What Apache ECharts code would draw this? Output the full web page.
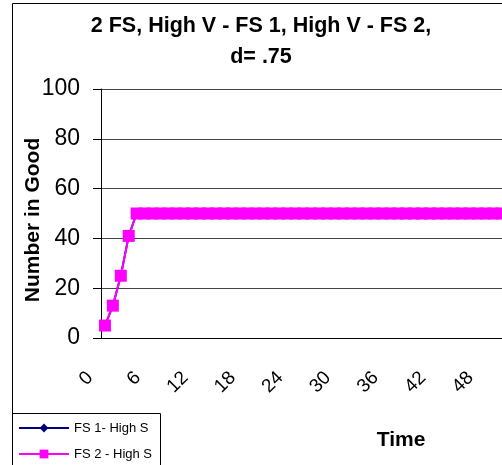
<!DOCTYPE html>
<html><head><meta charset="utf-8">
<script src="https://cdn.jsdelivr.net/npm/echarts/dist/echarts.min.js"></script>
<style>html,body{margin:0;padding:0;background:#fff}#c{width:502px;height:465px}</style>
</head><body><div id="c"></div>
<script>
const categories = ['0','1','2','3','4','5','6','7','8','9','10','11','12','13','14','15','16','17','18','19','20','21','22','23','24','25','26','27','28','29','30','31','32','33','34','35','36','37','38','39','40','41','42','43','44','45','46','47','48','49','50','51','52','53'];
const fs1Values = [5,13,25,41,50,50,50,50,50,50,50,50,50,50,50,50,50,50,50,50,50,50,50,50,50,50,50,50,50,50,50,50,50,50,50,50,50,50,50,50,50,50,50,50,50,50,50,50,50,50,50,50,50,50];
const fs2Values = [5,13,25,41,50,50,50,50,50,50,50,50,50,50,50,50,50,50,50,50,50,50,50,50,50,50,50,50,50,50,50,50,50,50,50,50,50,50,50,50,50,50,50,50,50,50,50,50,50,50,50,50,50,50];
const seriesNames = ['FS 1- High S', 'FS 2 - High S'];
const titleLines = ['2 FS, High V - FS 1, High V - FS 2,', 'd= .75'];

const font = 'Liberation Sans, Arial, sans-serif';
const titleStyle = {fontSize: 21.5, fontWeight: 'bold', color: '#000', fontFamily: font};
const chart = echarts.init(document.getElementById('c'), null, {renderer: 'canvas'});
chart.setOption({
  animation: false,
  backgroundColor: '#fff',
  textStyle: {fontFamily: font},
  graphic: [{
    type: 'rect', z: -10, silent: true,
    shape: {x: 12.5, y: 3.5, width: 700, height: 700},
    style: {fill: '#fff', stroke: '#000', lineWidth: 1}
  }, {
    type: 'rect', z: 5, silent: true,
    shape: {x: 12.5, y: 413.5, width: 148, height: 100},
    style: {fill: 'none', stroke: '#000', lineWidth: 1}
  }],
  title: [
    {text: titleLines[0], left: 261, top: 15, textAlign: 'center', padding: 0, textStyle: titleStyle},
    {text: titleLines[1], left: 261, top: 46, textAlign: 'center', padding: 0, textStyle: titleStyle}
  ],
  legend: {
    orient: 'vertical', left: 12, top: 413, height: 80, itemWidth: 50, itemHeight: 11, itemGap: 12,
    padding: [8, 10, 0, 6], borderWidth: 0, backgroundColor: 'transparent',
    textStyle: {fontSize: 13, lineHeight: 14, color: '#000', fontFamily: font},
    data: seriesNames
  },
  grid: {left: 101, top: 89, width: 428, height: 249, containLabel: false, outerBoundsMode: 'none'},
  xAxis: {
    type: 'category', data: categories, boundaryGap: true,
    axisLine: {lineStyle: {color: '#000', width: 1}},
    axisTick: {interval: 0, length: 8, lineStyle: {color: '#000'}},
    axisLabel: {interval: 5, rotate: 45, margin: 22, padding: [0, 21, 0, 0], fontSize: 19, color: '#000', fontFamily: font},
    splitLine: {show: false},
    name: 'Time', nameLocation: 'middle', nameGap: 92, nameMoveOverlap: false,
    nameTextStyle: {fontSize: 21, fontWeight: 'bold', color: '#000', fontFamily: font, padding: [0, 0, 0, 172]}
  },
  yAxis: {
    type: 'value', min: 0, max: 100, interval: 20,
    axisLine: {show: true, lineStyle: {color: '#000', width: 1}},
    axisTick: {show: true, length: 8, lineStyle: {color: '#000'}},
    axisLabel: {margin: 21, fontSize: 23, color: '#000', fontFamily: font},
    splitLine: {show: true, lineStyle: {color: '#444', width: 1}},
    name: 'Number in Good', nameLocation: 'middle', nameRotate: 90, nameGap: 57, nameMoveOverlap: false,
    nameTextStyle: {fontSize: 21, fontWeight: 'bold', color: '#000', fontFamily: font, padding: [0, 13, 0, 0]}
  },
  series: [
    {name: seriesNames[0], type: 'line', data: fs1Values, symbol: 'diamond', symbolSize: 11, showAllSymbol: true,
     itemStyle: {color: '#000080'}, lineStyle: {color: '#000080', width: 2}},
    {name: seriesNames[1], type: 'line', data: fs2Values, symbol: 'rect', symbolSize: 12, showAllSymbol: true,
     itemStyle: {color: '#FF00FF'}, lineStyle: {color: '#FF00FF', width: 2}}
  ]
});
</script></body></html>
